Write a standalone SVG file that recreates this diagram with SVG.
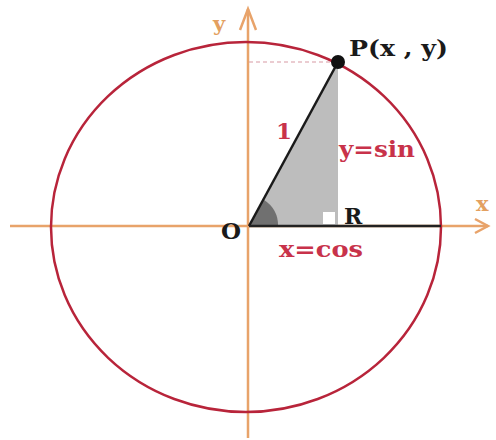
<svg xmlns="http://www.w3.org/2000/svg" width="496" height="440" viewBox="0 0 496 440">
<style>
.axis{stroke:#e8a36a;stroke-width:2.5;fill:none}
.lbl{font-family:"DejaVu Serif","Liberation Serif",serif;font-weight:bold}
.red{fill:#c8324a}
.blk{fill:#1a1a1a}
.org{fill:#e3a060}
</style>
<rect width="496" height="440" fill="#ffffff"/>
<g id="connectors">
<line class="axis" x1="10" y1="226" x2="488" y2="226"/>
<polyline class="axis" points="475,219 488,226 475,233"/>
<line class="axis" x1="248" y1="9" x2="248" y2="438"/>
<polyline class="axis" points="240,30 248,9 256,30"/>
</g>
<g id="circle">
<ellipse cx="246" cy="227" rx="195" ry="185" fill="none" stroke="#b8243a" stroke-width="2.5"/>
</g>
<g id="triangle">
<polygon points="249,226 338,62 338,226" fill="#bdbdbd"/>
<path d="M249,226 L278,226 A29,29 0 0 0 264,200 Z" fill="#707070"/>
<rect x="323" y="212" width="12" height="12" fill="#ffffff"/>
<line x1="249" y1="62" x2="338" y2="62" stroke="#d89aa4" stroke-width="1.2" stroke-dasharray="4,3"/>
<line x1="249" y1="226" x2="338" y2="62" stroke="#1a1a1a" stroke-width="2.5"/>
<line x1="249" y1="226" x2="441" y2="226" stroke="#222" stroke-width="2.5"/>
</g>
<g id="P">
<circle cx="338" cy="62" r="7" fill="#111"/>
<text class="lbl blk" x="349" y="56" font-size="23" textLength="99" lengthAdjust="spacingAndGlyphs">P(x , y)</text>
</g>
<g id="labels">
<text class="lbl org" x="213" y="31" font-size="21">y</text>
<text class="lbl org" x="476" y="211" font-size="21">x</text>
<text class="lbl red" x="276" y="139" font-size="23">1</text>
<text class="lbl red" x="339" y="157" font-size="23" textLength="76" lengthAdjust="spacingAndGlyphs">y=sin</text>
<text class="lbl blk" x="221" y="239" font-size="23">O</text>
<text class="lbl blk" x="344" y="224" font-size="22">R</text>
<text class="lbl red" x="279" y="257" font-size="23" textLength="84" lengthAdjust="spacingAndGlyphs">x=cos</text>
</g>
</svg>
